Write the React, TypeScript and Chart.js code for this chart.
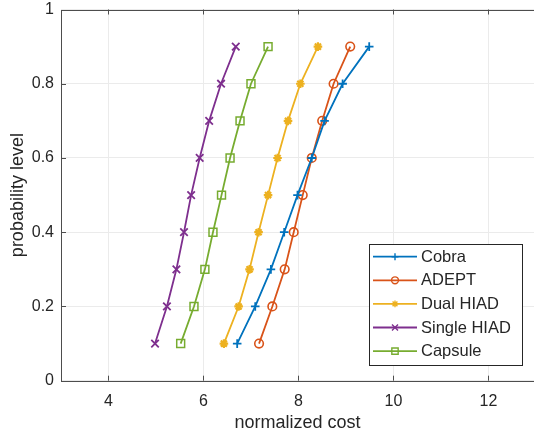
import React, { useEffect, useRef } from 'react';
import { Chart, registerables } from 'chart.js';
import { drawPoint } from 'chart.js/helpers';

Chart.register(...registerables);

const probabilityLevels = [0.1, 0.2, 0.3, 0.4, 0.5, 0.6, 0.7, 0.8, 0.9];
const cobraCost = [6.71, 7.09, 7.42, 7.7, 7.98, 8.28, 8.55, 8.93, 9.49];
const adeptCost = [7.17, 7.45, 7.71, 7.9, 8.09, 8.28, 8.5, 8.74, 9.09];
const dualHiadCost = [6.43, 6.74, 6.97, 7.16, 7.36, 7.56, 7.78, 8.04, 8.41];
const singleHiadCost = [4.98, 5.23, 5.43, 5.59, 5.74, 5.92, 6.12, 6.37, 6.68];
const capsuleCost = [5.52, 5.8, 6.03, 6.2, 6.38, 6.56, 6.77, 7.0, 7.36];
const seriesNames = ['Cobra', 'ADEPT', 'Dual HIAD', 'Single HIAD', 'Capsule'];
const xTicks = [4, 6, 8, 10, 12];
const yTicks = [0, 0.2, 0.4, 0.6, 0.8, 1];

const FONT = "'Liberation Sans', Arial, Helvetica, sans-serif";
const TEXT = '#262626';

const styles = [
  { color: '#0072BD', pointStyle: 'cross', radius: 4.3, bw: 1.8 },
  { color: '#D95319', pointStyle: 'circle', radius: 4.3, bw: 1.6 },
  { color: '#EDB120', pointStyle: 'star', radius: 4.3, bw: 2.2 },
  { color: '#7E2F8E', pointStyle: 'crossRot', radius: 5.3, bw: 1.8 },
  { color: '#77AC30', pointStyle: 'rect', radius: 5.6, bw: 1.5 },
];

const costs = [cobraCost, adeptCost, dualHiadCost, singleHiadCost, capsuleCost];

const zeroPad = (s: any) => {
  s.paddingTop = 0;
  s.paddingBottom = 0;
  s.paddingLeft = 0;
  s.paddingRight = 0;
};

const framePlugin = {
  id: 'frame',
  afterDraw(chart: any) {
    const { ctx, chartArea, scales } = chart;
    const { left, right, top, bottom } = chartArea;
    ctx.save();
    ctx.strokeStyle = '#4d4d4d';
    ctx.lineWidth = 1;
    ctx.beginPath();
    ctx.rect(Math.round(left) + 0.5, Math.round(top) + 0.5, Math.round(right - left), Math.round(bottom - top));
    ctx.stroke();
    const tl = 5;
    ctx.beginPath();
    xTicks.forEach((v) => {
      const x = Math.round(scales.x.getPixelForValue(v)) + 0.5;
      ctx.moveTo(x, bottom);
      ctx.lineTo(x, bottom - tl);
      ctx.moveTo(x, top);
      ctx.lineTo(x, top + tl);
    });
    yTicks.forEach((v) => {
      const y = Math.round(scales.y.getPixelForValue(v)) + 0.5;
      ctx.moveTo(left, y);
      ctx.lineTo(left + tl, y);
    });
    ctx.stroke();

    // legend
    const bx = 369.5, by = 244.5, bw = 153, bh = 121;
    ctx.fillStyle = '#ffffff';
    ctx.fillRect(bx, by, bw, bh);
    ctx.strokeStyle = '#262626';
    ctx.strokeRect(bx, by, bw, bh);
    ctx.font = `16.5px ${FONT}`;
    ctx.textBaseline = 'middle';
    ctx.textAlign = 'left';
    seriesNames.forEach((name, i) => {
      const y = 256.7 + i * 23.6;
      const st = styles[i];
      ctx.strokeStyle = st.color;
      ctx.lineWidth = 1.8;
      ctx.beginPath();
      ctx.moveTo(373, y);
      ctx.lineTo(417, y);
      ctx.stroke();
      ctx.lineWidth = 1.4;
      ctx.fillStyle = 'rgba(0,0,0,0)';
      drawPoint(ctx, { pointStyle: st.pointStyle, radius: st.radius * 0.8, rotation: 0, borderWidth: 1.4 } as any, 395, y);
      ctx.fillStyle = TEXT;
      ctx.fillText(name, 421, y + 0.5);
    });
    ctx.restore();
  },
};

export default function App() {
  const ref = useRef<HTMLCanvasElement>(null);
  useEffect(() => {
    const canvas = ref.current!;
    const chart = new Chart(canvas, {
      type: 'line',
      data: {
        datasets: seriesNames.map((name, i) => ({
          label: name,
          data: costs[i].map((c, j) => ({ x: c, y: probabilityLevels[j] })),
          borderColor: styles[i].color,
          backgroundColor: 'rgba(0,0,0,0)',
          pointBorderColor: styles[i].color,
          pointBackgroundColor: 'rgba(0,0,0,0)',
          pointStyle: styles[i].pointStyle as any,
          pointRadius: styles[i].radius,
          pointBorderWidth: styles[i].bw,
          borderWidth: 1.8,
          tension: 0,
          fill: false,
        })),
      },
      options: {
        animation: false,
        responsive: false,
        devicePixelRatio: 1,
        layout: { autoPadding: false, padding: { top: 9.5, left: 0, right: 0, bottom: 0 } },
        plugins: { legend: { display: false }, tooltip: { enabled: false } },
        scales: {
          x: {
            type: 'linear',
            min: 3,
            max: 12.96,
            afterBuildTicks: (s: any) => {
              s.ticks = xTicks.map((v) => ({ value: v }));
            },
            afterFit: (s: any) => {
              s.height = 57.3;
              zeroPad(s);
            },
            grid: { color: '#ebebeb', drawTicks: false, lineWidth: 1 },
            border: { display: false },
            ticks: { padding: 11, color: TEXT, font: { family: FONT, size: 16 }, maxRotation: 0 },
            title: {
              display: true,
              text: 'normalized cost',
              color: TEXT,
              font: { family: FONT, size: 18 },
              padding: { top: 0, bottom: 4.5 },
            },
          },
          y: {
            type: 'linear',
            min: 0,
            max: 1,
            afterBuildTicks: (s: any) => {
              s.ticks = yTicks.map((v) => ({ value: v }));
            },
            afterFit: (s: any) => {
              s.width = 61;
              zeroPad(s);
            },
            grid: { color: '#ebebeb', drawTicks: false, lineWidth: 1 },
            border: { display: false },
            ticks: {
              padding: 7,
              color: TEXT,
              font: { family: FONT, size: 16 },
              callback: (v: any) => String(Math.round(v * 10) / 10),
            },
            title: {
              display: true,
              text: 'probability level',
              color: TEXT,
              font: { family: FONT, size: 18 },
              padding: { top: 7, bottom: 0 },
            },
          },
        },
      },
      plugins: [framePlugin],
    });
    return () => chart.destroy();
  }, []);
  return (
    <div style={{ position: 'fixed', left: 0, top: 0, width: 534, height: 438, background: '#fff' }}>
      <canvas ref={ref} width={534} height={438} style={{ display: 'block', width: 534, height: 438 }} />
    </div>
  );
}
